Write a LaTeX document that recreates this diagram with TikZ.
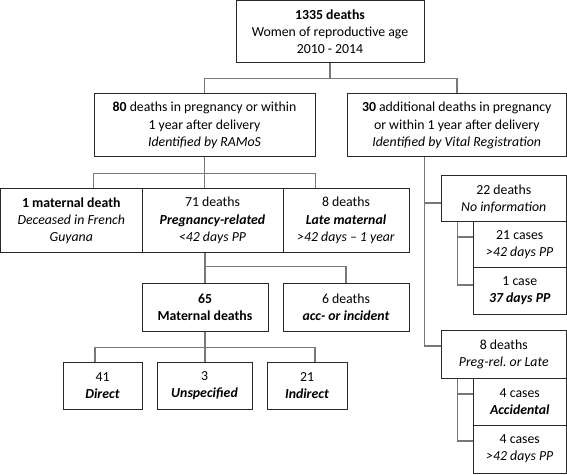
\documentclass[tikz,border=0pt]{standalone}
\usepackage{fontspec}
\setmainfont{Carlito}
\frenchspacing
\usetikzlibrary{calc}
\definecolor{conncol}{RGB}{120,120,120}
\definecolor{boxcol}{RGB}{40,40,40}
\tikzset{
  box/.style={draw=boxcol, line width=1bp, fill=white, inner sep=0pt, align=center,
    font=\fontsize{13.8bp}{17.2bp}\selectfont},
  conn/.style={draw=conncol, line width=1.5bp},
}
\begin{document}
\begin{tikzpicture}[x=1bp,y=-1bp]
\useasboundingbox (0,0) rectangle (567,475);
% nodes
\node[box, minimum width=188bp, minimum height=62.5bp] (top) at (330,31.75)
  {\textbf{1335 deaths}\\Women of reproductive age\\2010 - 2014};
\node[box, minimum width=221bp, minimum height=63bp] (b80) at (204.5,125.5)
  {\textbf{80} deaths in pregnancy or within\\1 year after delivery\\\textit{Identified by RAMoS}};
\node[box, minimum width=219.5bp, minimum height=63bp] (b30) at (456.75,125.5)
  {\textbf{30} additional deaths in pregnancy\\or within 1 year after delivery\\\textit{Identified by Vital Registration}};
\node[box, minimum width=141.5bp, minimum height=63bp] (b1) at (71.25,220.5)
  {\textbf{1 maternal death}\\\textit{Deceased in French}\\\textit{Guyana}};
\node[box, minimum width=141bp, minimum height=63bp] (b71) at (212.5,220.5)
  {71 deaths\\\textbf{\textit{Pregnancy-related}}\\\textit{<42 days PP}};
\node[box, minimum width=126bp, minimum height=63bp] (b8) at (346,220.5)
  {8 deaths\\\textbf{\textit{Late maternal}}\\\textit{>42 days – 1 year}};
\node[box, minimum width=126bp, minimum height=48bp] (b65) at (205,307)
  {\textbf{65}\\\textbf{Maternal deaths}};
\node[box, minimum width=126bp, minimum height=48bp] (b6) at (346,307)
  {6 deaths\\\textbf{\textit{acc- or incident}}};
\node[box, minimum width=79bp, minimum height=47bp] (b41) at (102.5,385.5)
  {41\\\textbf{\textit{Direct}}};
\node[box, minimum width=95bp, minimum height=47bp] (b3) at (204.5,385.5)
  {3\\\textbf{\textit{Unspecified}}};
\node[box, minimum width=80bp, minimum height=47bp] (b21) at (307,385.5)
  {21\\\textbf{\textit{Indirect}}};
\node[box, minimum width=125.5bp, minimum height=46bp] (b22) at (503.75,199)
  {22 deaths\\\textit{No information}};
\node[box, minimum width=93.5bp, minimum height=46bp] (b21c) at (519.75,245)
  {21 cases\\\textit{>42 days PP}};
\node[box, minimum width=93.5bp, minimum height=46bp] (b1c) at (519.75,291)
  {1 case\\\textbf{\textit{37 days PP}}};
\node[box, minimum width=125.5bp, minimum height=48bp] (b8d) at (503.75,354)
  {8 deaths\\\textit{Preg-rel. or Late}};
\node[box, minimum width=93.5bp, minimum height=47bp] (b4a) at (519.75,401.5)
  {4 cases\\\textbf{\textit{Accidental}}};
\node[box, minimum width=93.5bp, minimum height=48bp] (b4b) at (519.75,449)
  {4 cases\\\textit{>42 days PP}};
% connectors
\draw[conn] (top.south) -- ++(0,15) -| (b80.north);
\draw[conn] (top.south) -- ++(0,15) -| (b30.north);
\draw[conn] (b80.south) -- ++(0,16) coordinate (j80);
\draw[conn] (b80.south west |- j80) -- (b80.south east |- j80);
\draw[conn] (b80.south west |- j80) -- (b80.south west |- b1.north);
\draw[conn] (j80) -- (b80.south |- b71.north);
\draw[conn] (b80.south east |- j80) -- (b80.south east |- b8.north);
\draw[conn] (b65.north |- b71.south) -- (b65.north);
\draw[conn] (b65.north) ++(0,-16) -| (b6.north);
\draw[conn] (b65.south) -- ++(0,16) coordinate (j65);
\draw[conn] (j65) -| ([xshift=-7.5bp]b41.north);
\draw[conn] (j65) -| ([xshift=8bp]b21.north);
\draw[conn] (j65) -- (b65.south |- b3.north);
\coordinate (spine) at ($(b22.west |- b30.south)+(-16,0)$);
\draw[conn] (spine) |- ($(b8d.west)+(0,-8)$);
\draw[conn] (spine |- b22.west) ++(0,4) -- ($(b22.west)+(0,4)$);
\coordinate (s22) at ($(b22.south west)+(17,0)$);
\draw[conn] (s22) |- ($(b1c.west)+(0,-6)$);
\draw[conn] (s22 |- b21c.west) ++(0,-8) -- ($(b21c.west)+(0,-8)$);
\coordinate (s8) at ($(b8d.south west)+(17,0)$);
\draw[conn] (s8) |- ($(b4b.west)+(0,-8)$);
\draw[conn] (s8 |- b4a.west) ++(0,-7.5) -- ($(b4a.west)+(0,-7.5)$);
\end{tikzpicture}
\end{document}
